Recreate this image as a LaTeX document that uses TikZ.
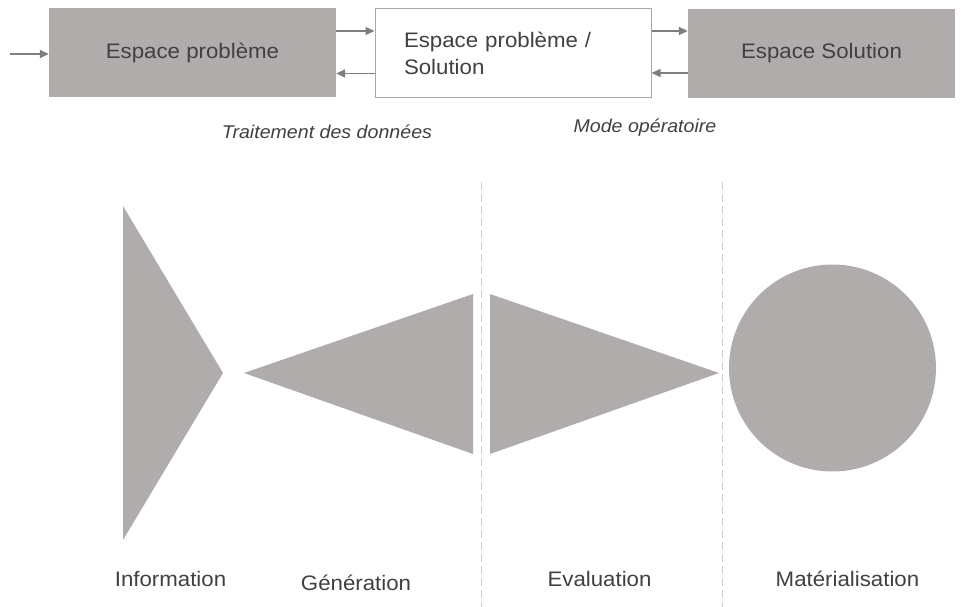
\documentclass[tikz,border=0pt]{standalone}
\usepackage{fontspec}
\setmainfont[FakeStretch=1.06]{Liberation Sans}
\usetikzlibrary{arrows.meta}
\definecolor{shapegrey}{HTML}{B0ACAC}
\definecolor{inkgrey}{HTML}{404040}
\definecolor{arrowgrey}{HTML}{7E7E7E}
\definecolor{framegrey}{HTML}{A8A8A8}
\definecolor{dashgrey}{HTML}{CDCDCD}
\tikzset{
  spacebox/.style={draw=none, fill=shapegrey, text=inkgrey, minimum height=89pt,
    font=\fontsize{21}{26}\selectfont, inner sep=0pt},
  mixbox/.style={draw=framegrey, line width=1pt, fill=white, text=inkgrey,
    minimum height=89pt, inner xsep=29pt, text width=218pt, align=left,
    font=\fontsize{21}{27}\selectfont},
  flow/.style={draw=arrowgrey, line width=1.4pt, -{Triangle[length=9pt,width=8pt]}},
  modelabel/.style={text=inkgrey, font=\fontsize{18.5}{22}\selectfont\itshape},
  phaselabel/.style={text=inkgrey, font=\fontsize{21}{25}\selectfont},
  divider/.style={draw=dashgrey, line width=1pt, dash pattern=on 8pt off 4pt},
  phase/.style={fill=shapegrey, draw=none}
}
\begin{document}
\begin{tikzpicture}[x=1pt, y=-1pt]
  \useasboundingbox (0,0) rectangle (962,607);

  % top row: problem space, mixed space, solution space
  \node[spacebox, minimum width=287pt] (b1) at (192.5,53) {Espace problème};
  \node[mixbox, minimum width=276pt] (b2) at (513,53.5) {Espace problème /\\Solution};
  \node[spacebox, minimum width=267pt] (b3) at (821.5,53.5) {Espace Solution};

  % yshift is measured upwards on the page
  \coordinate (in) at (10,54);
  \draw[flow] (in) -- (in -| b1.west);
  \draw[flow] ([yshift=22pt]b1.east) -- ([yshift=22pt]b1.east -| b2.west);
  \draw[flow] ([yshift=-20pt]b2.west) -- ([yshift=-20pt]b2.west -| b1.east);
  \draw[flow] ([yshift=22.5pt]b2.east) -- ([yshift=22.5pt]b2.east -| b3.west);
  \draw[flow] ([yshift=-19.5pt]b3.west) -- ([yshift=-19.5pt]b3.west -| b2.east);

  \node[modelabel] (t1) at (327,132) {Traitement des données};
  \node[modelabel] (t2) at (645,128) {Mode opératoire};

  % dashed phase separators
  \coordinate (d1top) at (481,182);
  \coordinate (d1bot) at (481,607);
  \coordinate (d2top) at (722,182);
  \coordinate (d2bot) at (722,607);
  \draw[divider] (d1top) -- (d1bot);
  \draw[divider] (d2top) -- (d2bot);

  % phase shapes
  \fill[phase] (123,206) -- (223,373) -- (123,540) -- cycle;
  \fill[phase] (244,373) -- (473,294) -- (473,454) -- cycle;
  \fill[phase] (490,294) -- (719,373) -- (490,454) -- cycle;
  \fill[phase] (832.5,368) circle[radius=103.5];

  % phase labels
  \node[phaselabel] (l1) at (170.5,579) {Information};
  \node[phaselabel] (l2) at (356,583) {Génération};
  \node[phaselabel] (l3) at (599.5,579) {Evaluation};
  \node[phaselabel] (l4) at (847.5,579) {Matérialisation};
\end{tikzpicture}
\end{document}
